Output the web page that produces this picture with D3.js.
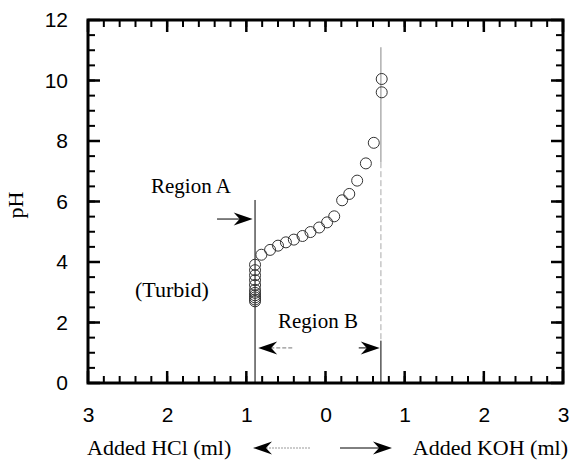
<!DOCTYPE html>
<html>
<head>
<meta charset="utf-8">
<script src="https://cdn.jsdelivr.net/npm/d3@7"></script>
<style>
  body { margin: 0; background: #fff; }
  svg { display: block; }
  .serif { font-family: "Liberation Serif", "Times New Roman", serif; fill: #000; }
</style>
</head>
<body>
<div id="chart"></div>
<script>
// Titration data: HCl added is plotted on the negative side, KOH on the positive side
const turbidX = [-0.89, -0.89, -0.89, -0.89, -0.89, -0.89, -0.89, -0.89, -0.89, -0.89, -0.89];
const turbidPH = [3.91, 3.73, 3.56, 3.40, 3.24, 3.08, 2.98, 2.90, 2.83, 2.76, 2.70];

const curveX = [-0.81, -0.70, -0.60, -0.50, -0.40, -0.29, -0.19, -0.08, 0.02, 0.11, 0.21, 0.30, 0.40, 0.51, 0.61, 0.71, 0.71];
const curvePH = [4.24, 4.40, 4.54, 4.65, 4.74, 4.86, 4.99, 5.14, 5.31, 5.51, 6.04, 6.25, 6.69, 7.26, 7.94, 9.61, 10.05];

const xTicks = [-3, -2, -1, 0, 1, 2, 3];
const yTicks = [0, 2, 4, 6, 8, 10, 12];

// boundaries of the regions (ml)
const regionAEdge = -0.89;
const regionBEdge = 0.70;

const W = 575, H = 460;
const margin = { top: 20, right: 12, bottom: 77, left: 88 };
const width = W - margin.left - margin.right;
const height = H - margin.top - margin.bottom;

const svg = d3.select('#chart').append('svg')
  .attr('width', W).attr('height', H);

const g = svg.append('g')
  .attr('transform', `translate(${margin.left},${margin.top})`);

const x = d3.scaleLinear().domain([-3, 3]).range([0, width]);
const y = d3.scaleLinear().domain([0, 12]).range([height, 0]);

const minorX = d3.range(-3, 3.001, 0.2).map(v => +v.toFixed(1));
const minorY = d3.range(0, 12.001, 0.5);

// tick labels from d3 axes
g.append('g').attr('transform', `translate(0,${height})`)
  .call(d3.axisBottom(x).tickValues(xTicks).tickSize(0).tickPadding(24)
    .tickFormat(d => Math.abs(d)))
  .call(s => s.select('.domain').remove());
g.append('g')
  .call(d3.axisLeft(y).tickValues(yTicks).tickSize(0).tickPadding(20))
  .call(s => s.select('.domain').remove());
g.selectAll('.tick text')
  .style('font-family', '"Liberation Sans", Arial, sans-serif')
  .style('font-size', '21px')
  .attr('fill', '#000');

// region boundary lines
g.append('line')
  .attr('x1', x(regionAEdge)).attr('x2', x(regionAEdge))
  .attr('y1', y(6.05)).attr('y2', y(0))
  .attr('stroke', '#000').attr('stroke-width', 1);

g.append('line')
  .attr('x1', x(regionBEdge)).attr('x2', x(regionBEdge))
  .attr('y1', y(11.1)).attr('y2', y(7.3))
  .attr('stroke', '#888').attr('stroke-width', 1);
g.append('line')
  .attr('x1', x(regionBEdge)).attr('x2', x(regionBEdge))
  .attr('y1', y(7.3)).attr('y2', y(1.4))
  .attr('stroke', '#aaa').attr('stroke-width', 1)
  .attr('stroke-dasharray', '6,3');
g.append('line')
  .attr('x1', x(regionBEdge)).attr('x2', x(regionBEdge))
  .attr('y1', y(1.4)).attr('y2', y(0))
  .attr('stroke', '#000').attr('stroke-width', 1);

// data points
const pts = turbidX.map((d, i) => ({ x: d, ph: turbidPH[i] }))
  .concat(curveX.map((d, i) => ({ x: d, ph: curvePH[i] })));

g.selectAll('.pt')
  .data(pts)
  .enter()
  .append('circle')
  .attr('class', 'pt')
  .attr('cx', d => x(d.x))
  .attr('cy', d => y(d.ph))
  .attr('r', 5.5)
  .attr('fill', 'none')
  .attr('stroke', '#333')
  .attr('stroke-width', 1);

// arrows
function arrow(parent, x1, y1, x2, y2, dash, color) {
  const ang = Math.atan2(y2 - y1, x2 - x1);
  parent.append('line')
    .attr('x1', x1).attr('y1', y1)
    .attr('x2', x2 - 10 * Math.cos(ang)).attr('y2', y2 - 10 * Math.sin(ang))
    .attr('stroke', color || '#000').attr('stroke-width', 1)
    .attr('stroke-dasharray', dash || null);
  parent.append('path')
    .attr('d', 'M0,0 L-19,-6.5 L-13,0 L-19,6.5 Z')
    .attr('transform', `translate(${x2},${y2}) rotate(${ang * 180 / Math.PI})`)
    .attr('fill', '#000');
}

// Region A
arrow(g, x(-1.37), y(5.42), x(-0.92), y(5.42));
// Region B
arrow(g, x(-0.42), y(1.16), x(-0.85), y(1.16), '4,2', '#777');
arrow(g, x(0.42), y(1.16), x(0.685), y(1.16));

g.append('text').attr('class', 'serif')
  .attr('x', 63).attr('y', 173)
  .style('font-size', '21px')
  .text('Region A');
g.append('text').attr('class', 'serif')
  .attr('x', 47).attr('y', 277)
  .style('font-size', '22px')
  .text('(Turbid)');
g.append('text').attr('class', 'serif')
  .attr('x', 190).attr('y', 308)
  .style('font-size', '21px')
  .text('Region B');

// axis titles
svg.append('text').attr('class', 'serif')
  .attr('transform', 'translate(23,205) rotate(-90)')
  .attr('text-anchor', 'middle')
  .style('font-size', '22px')
  .text('pH');

svg.append('text').attr('class', 'serif')
  .attr('x', 87).attr('y', 455)
  .style('font-size', '22px')
  .text('Added HCl (ml)');
svg.append('text').attr('class', 'serif')
  .attr('x', 568).attr('y', 455)
  .attr('text-anchor', 'end')
  .style('font-size', '22px')
  .text('Added KOH (ml)');

arrow(svg, 310, 448, 253, 448, '2,1', '#999');
arrow(svg, 340, 448, 392, 448);

// frame and inward ticks on all four sides, drawn last
const frame = g.append('g').attr('stroke', '#000').attr('fill', 'none');
frame.append('rect')
  .attr('width', width).attr('height', height)
  .attr('stroke-width', 3);

function hTicks(vals, len, sw) {
  frame.selectAll(null).data(vals).enter().append('line')
    .attr('stroke-width', sw)
    .attr('x1', d => x(d)).attr('x2', d => x(d))
    .attr('y1', height).attr('y2', height - len);
  frame.selectAll(null).data(vals).enter().append('line')
    .attr('stroke-width', sw)
    .attr('x1', d => x(d)).attr('x2', d => x(d))
    .attr('y1', 0).attr('y2', len);
}
function vTicks(vals, len, sw) {
  frame.selectAll(null).data(vals).enter().append('line')
    .attr('stroke-width', sw)
    .attr('y1', d => y(d)).attr('y2', d => y(d))
    .attr('x1', 0).attr('x2', len);
  frame.selectAll(null).data(vals).enter().append('line')
    .attr('stroke-width', sw)
    .attr('y1', d => y(d)).attr('y2', d => y(d))
    .attr('x1', width).attr('x2', width - len);
}
hTicks(minorX, 7, 2);
vTicks(minorY, 7, 2);
hTicks(xTicks, 12, 2.5);
vTicks(yTicks, 12, 2.5);
</script>
</body>
</html>
